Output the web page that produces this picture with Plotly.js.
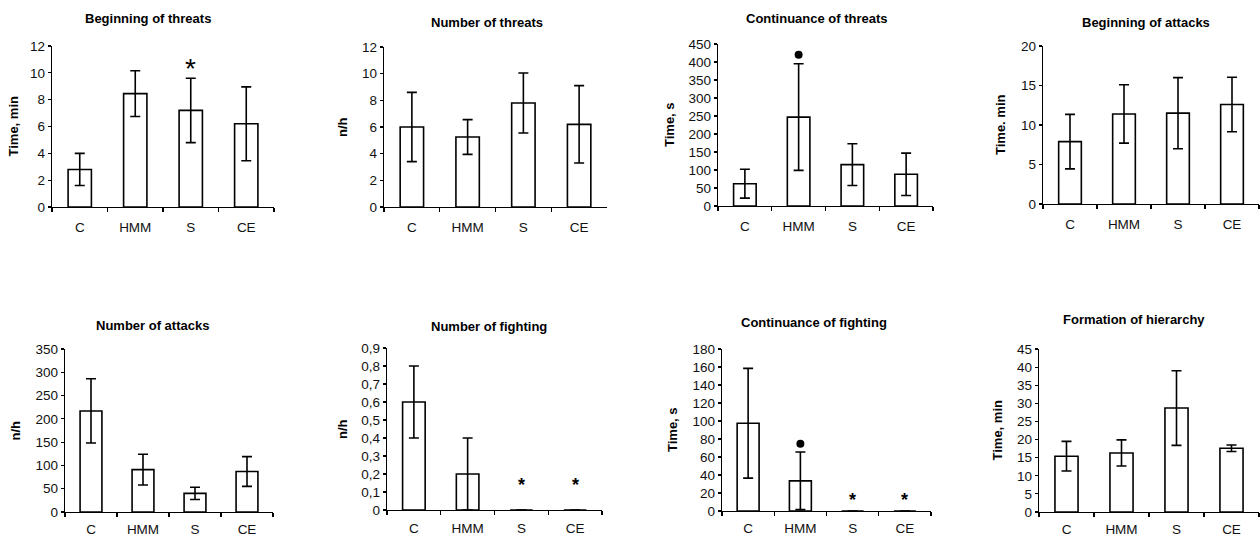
<!DOCTYPE html>
<html>
<head>
<meta charset="utf-8">
<script src="https://cdn.plot.ly/plotly-3.0.1.min.js"></script>
<style>html,body{margin:0;padding:0;background:#fff}#chart{width:1260px;height:538px}</style>
</head>
<body>
<div id="chart"></div>
<script>
// ---- data ----
const categories = ['C', 'HMM', 'S', 'CE'];

const beginningThreatsMean = [2.8, 8.45, 7.2, 6.2];
const beginningThreatsErr  = [1.2, 1.7, 2.4, 2.75];

const numberThreatsMean = [6.0, 5.25, 7.8, 6.2];
const numberThreatsErr  = [2.6, 1.3, 2.25, 2.9];

const continuanceThreatsMean = [62, 247, 115, 88];
const continuanceThreatsErr  = [40, 148, 58, 59];

const beginningAttacksMean = [7.9, 11.4, 11.5, 12.6];
const beginningAttacksErr  = [3.45, 3.7, 4.5, 3.45];

const numberAttacksMean = [217, 91, 40, 87];
const numberAttacksErr  = [69, 33, 13, 32];

const numberFightingMean = [0.6, 0.2, 0, 0];
const numberFightingErr  = [0.2, 0.2, 0, 0];

const continuanceFightingMean = [97.5, 33.5, 0, 0];
const continuanceFightingErr  = [61, 32, 0, 0];

const hierarchyMean = [15.4, 16.3, 28.7, 17.6];
const hierarchyErr  = [4.1, 3.6, 10.3, 0.9];

// significance marks: category, y value
const starsBeginningThreats = {cat: ['S'], y: [10.75]};
const dotsContinuanceThreats = {cat: ['HMM'], y: [420]};
const starsNumberFighting = {cat: ['S', 'CE'], y: [0.167, 0.167]};
const starsContinuanceFighting = {cat: ['S', 'CE'], y: [16.7, 16.7]};
const dotsContinuanceFighting = {cat: ['HMM'], y: [74.6]};

const titles = ['Beginning of threats', 'Number of threats', 'Continuance of threats', 'Beginning of attacks',
                'Number of attacks', 'Number of fighting', 'Continuance of fighting', 'Formation of hierarchy'];
const yTitles = ['Time, min', 'n/h', 'Time, s', 'Time. min', 'n/h', 'n/h', 'Time, s', 'Time, min'];
const yMax = [12, 12, 450, 20, 350, 0.9, 180, 45];
const yStep = [2, 2, 50, 5, 50, 0.1, 20, 5];
const means = [beginningThreatsMean, numberThreatsMean, continuanceThreatsMean, beginningAttacksMean,
               numberAttacksMean, numberFightingMean, continuanceFightingMean, hierarchyMean];
const errs = [beginningThreatsErr, numberThreatsErr, continuanceThreatsErr, beginningAttacksErr,
              numberAttacksErr, numberFightingErr, continuanceFightingErr, hierarchyErr];

// ---- layout geometry (pixels) ----
const W = 1260, H = 538;
const boxes = [
  {x0: 52, x1: 274, y0: 46, y1: 207, tx: 148, ty: 18, yx: 13, so: 8},
  {x0: 384, x1: 607, y0: 47, y1: 207, tx: 487, ty: 23, yx: 342, so: 8},
  {x0: 718, x1: 933, y0: 44, y1: 206, tx: 817, ty: 19, yx: 669, so: 8},
  {x0: 1043, x1: 1259, y0: 46, y1: 204, tx: 1146, ty: 22, yx: 1000, so: 8},
  {x0: 65, x1: 273, y0: 349, y1: 512, tx: 152, ty: 325, yx: 15, so: 5},
  {x0: 387, x1: 602, y0: 348, y1: 510, tx: 489, ty: 326, yx: 342, so: 6},
  {x0: 722, x1: 931, y0: 349, y1: 511, tx: 814, ty: 322, yx: 672, so: 5},
  {x0: 1039, x1: 1259, y0: 349, y1: 512, tx: 1134, ty: 319, yx: 997, so: 5}
];

const FONT = 'Liberation Sans, Arial, sans-serif';
const traces = [];
const layout = {
  width: W, height: H,
  margin: {l: 0, r: 0, t: 0, b: 0},
  paper_bgcolor: '#fff', plot_bgcolor: 'rgba(0,0,0,0)',
  showlegend: false,
  bargap: 0.58,
  font: {family: FONT, color: '#111', size: 13},
  annotations: []
};

boxes.forEach((b, i) => {
  const n = i + 1;
  const xa = 'x' + (n === 1 ? '' : n), ya = 'y' + (n === 1 ? '' : n);
  traces.push({
    type: 'bar', x: categories, y: means[i], xaxis: xa, yaxis: ya,
    marker: {color: '#fff', line: {color: '#000', width: 1.6}},
    error_y: {type: 'data', array: errs[i], visible: true, color: '#000', thickness: 1.6, width: 5},
    hoverinfo: 'x+y'
  });
  const dec = yStep[i] < 1;
  const tv = [], tt = [];
  for (let k = 0; k <= Math.round(yMax[i] / yStep[i]); k++) {
    const v = +(k * yStep[i]).toFixed(3);
    tv.push(v);
    tt.push(dec ? String(v).replace('.', ',') : String(v));
  }
  layout['xaxis' + (n === 1 ? '' : n)] = {
    domain: [b.x0 / W, b.x1 / W], anchor: ya, range: [-0.5, 3.5], type: 'category',
    showline: true, linecolor: '#000', linewidth: 1.2, showgrid: false, zeroline: false,
    ticks: 'outside', tickson: 'boundaries', ticklen: 4, tickcolor: '#000', tickwidth: 1.2,
    ticklabelstandoff: b.so, tickfont: {family: FONT, size: 13.5, color: '#111'}, fixedrange: true
  };
  layout['yaxis' + (n === 1 ? '' : n)] = {
    domain: [1 - b.y1 / H, 1 - b.y0 / H], anchor: xa, range: [0, yMax[i]],
    tickmode: 'array', tickvals: tv, ticktext: tt,
    showline: true, linecolor: '#000', linewidth: 1.2, showgrid: false, zeroline: false,
    ticks: 'outside', ticklen: 3, tickcolor: '#000', tickwidth: 1.2,
    tickfont: {family: FONT, size: 13.5, color: '#111'}, fixedrange: true
  };
  layout.annotations.push({
    xref: 'paper', yref: 'paper', x: b.tx / W, y: 1 - b.ty / H, xanchor: 'center', yanchor: 'middle',
    text: '<b>' + titles[i] + '</b>', showarrow: false, font: {family: FONT, size: 13, color: '#000'}
  });
  layout.annotations.push({
    xref: 'paper', yref: 'paper', x: b.yx / W, y: 1 - (b.y0 + b.y1) / 2 / H, xanchor: 'center', yanchor: 'middle',
    text: '<b>' + yTitles[i] + '</b>', textangle: -90, showarrow: false, font: {family: FONT, size: 13, color: '#000'}
  });
});

// asterisks as annotations placed at their data position (glyph sits high in its line box, so shift down)
function stars(s, n, size, bold, shift) {
  const ax = n === 1 ? '' : n;
  s.cat.forEach((c, k) => {
    layout.annotations.push({
      xref: 'x' + ax, yref: 'y' + ax, x: c, y: s.y[k], xanchor: 'center', yanchor: 'middle',
      yshift: -shift, showarrow: false, text: bold ? '<b>*</b>' : '*',
      font: {family: FONT, size: size, color: '#000'}
    });
  });
}
function dots(s, n) {
  const ax = n === 1 ? '' : n;
  traces.push({type: 'scatter', mode: 'markers', x: s.cat, y: s.y, xaxis: 'x' + ax, yaxis: 'y' + ax,
    marker: {symbol: 'circle', size: 8, color: '#000'}, hoverinfo: 'skip', cliponaxis: false});
}
stars(starsBeginningThreats, 1, 28, false, 6);
dots(dotsContinuanceThreats, 3);
stars(starsNumberFighting, 6, 18, true, 5);
stars(starsContinuanceFighting, 7, 18, true, 4);
dots(dotsContinuanceFighting, 7);

Plotly.newPlot('chart', traces, layout, {staticPlot: true, displayModeBar: false});
</script>
</body>
</html>
